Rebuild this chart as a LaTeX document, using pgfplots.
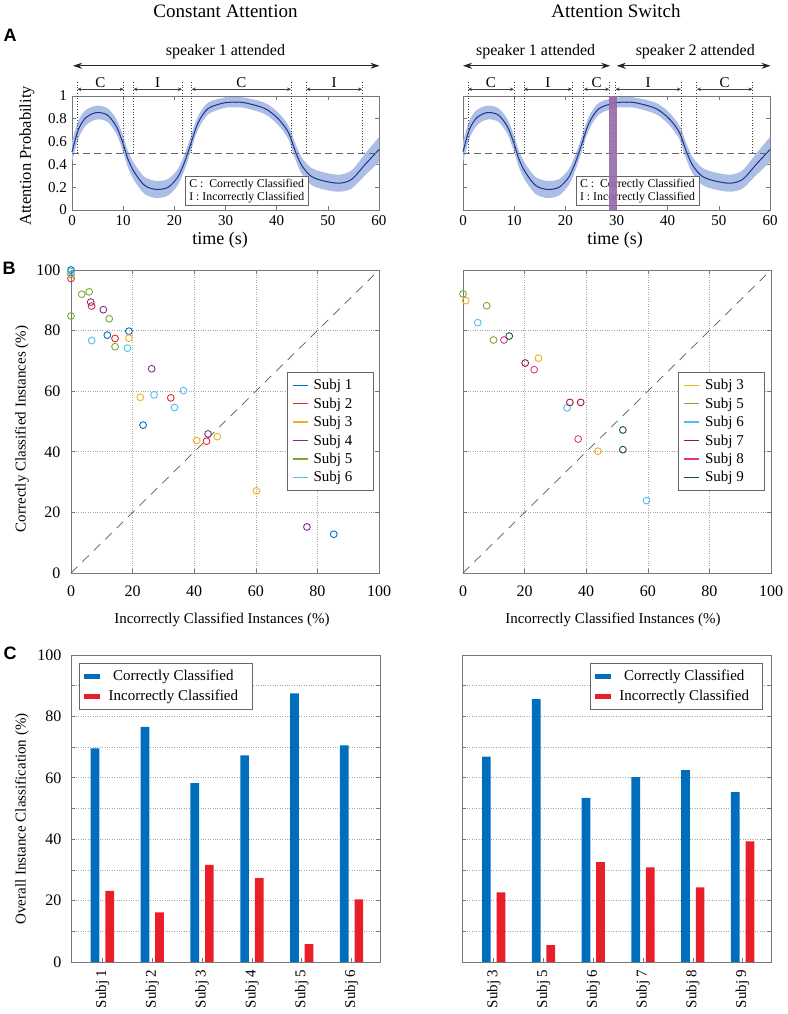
\documentclass[border=0pt]{standalone}
\usepackage{fontspec}
\setmainfont{Liberation Serif}
\newfontfamily\lsans{Liberation Sans}
\usepackage{pgfplots}
\usepackage{pgfplotstable}
\pgfplotsset{compat=1.18}
\usepgfplotslibrary{fillbetween}
\usetikzlibrary{arrows.meta}
\definecolor{bandc}{RGB}{172,190,230}
\definecolor{meanc}{RGB}{28,52,140}
\definecolor{axc}{RGB}{120,120,120}
\definecolor{subjA}{RGB}{0,114,189}
\definecolor{subjB}{RGB}{228,38,42}
\definecolor{subjC}{RGB}{237,177,32}
\definecolor{subjD}{RGB}{126,47,142}
\definecolor{subjE}{RGB}{119,172,48}
\definecolor{subjF}{RGB}{77,190,238}
\definecolor{subjG}{RGB}{162,20,47}
\definecolor{subjH}{RGB}{230,50,140}
\definecolor{subjI}{RGB}{20,90,30}
\definecolor{barb}{RGB}{0,110,189}
\definecolor{barr}{RGB}{232,30,40}
\definecolor{purp}{RGB}{150,105,170}
\newcommand{\fsz}[1]{\fontsize{#1}{#1}\selectfont}
\newcommand{\dl}[1]{\draw[black!75, dotted, line width=0.7pt] (axis cs:#1,0.5) -- (axis cs:#1,1.126);}
\newcommand{\br}[4]{\draw[{Stealth[length=4pt,width=3.5pt]}-{Stealth[length=4pt,width=3.5pt]}, black!75, line width=0.5pt] (axis cs:#1,1.059) -- (axis cs:#2,1.059);
  \node[anchor=base, font=\fsz{15}, inner sep=0pt] at (axis cs:#3,1.075) {#4};}
\newcommand{\sparrow}[2]{\draw[{Stealth[length=9pt,width=6pt]}-{Stealth[length=9pt,width=6pt]}, black!85, line width=0.8pt] (axis cs:#1,1.265) -- (axis cs:#2,1.265);}
\newcommand{\lline}[1]{\addlegendimage{legend image code/.code={\draw[#1, line width=1.4pt] (0pt,0pt) -- (15pt,0pt);}}}
\newcommand{\lbar}[1]{\addlegendimage{legend image code/.code={\fill[#1] (0pt,-2pt) rectangle (15pt,2pt);}}}
\newcommand{\bent}[1]{\addlegendentry{\rule{3pt}{0pt}#1\rule{14pt}{0pt}}}
\newcommand{\cent}[1]{\addlegendentry{\rule{6pt}{0pt}\makebox[131pt][c]{#1}\rule{6pt}{0pt}}}
\pgfplotsset{
  base/.style={scale only axis, anchor=south west,
    axis line style={axc, line width=0.6pt},
    tick style={axc, line width=0.6pt},
    tick align=inside, major tick length=4pt, minor tick length=4pt,
    /pgf/number format/assume math mode=true,
    tick label style={font=\fsz{16}, black}},
  scat/.style={only marks, mark=o, mark size=3.4pt, line width=0.9pt, mark options={solid}, forget plot},
  blegend/.style={legend cell align=left,
    legend style={draw=black!60, fill=white, line width=0.6pt, font=\fsz{15}, row sep=2.5pt, inner xsep=5pt, inner ysep=5pt}},
  clegend/.style={legend cell align=left,
    legend style={draw=black!60, fill=white, line width=0.6pt, font=\fsz{15}, row sep=4pt, inner xsep=5pt, inner ysep=5pt}}
}
\pgfplotstableread{
t m lo hi
0 0.51 0.42 0.60
1.2 0.70 0.62 0.78
2.5 0.80 0.73 0.87
4 0.845 0.783 0.907
5.3 0.855 0.795 0.915
7 0.83 0.77 0.89
8.7 0.73 0.665 0.795
10 0.58 0.51 0.65
10.9 0.45 0.378 0.522
12.2 0.33 0.255 0.405
14.2 0.215 0.14 0.29
16.5 0.18 0.105 0.255
18.8 0.20 0.128 0.272
20.7 0.29 0.22 0.36
22 0.42 0.352 0.488
23 0.55 0.485 0.615
24.6 0.76 0.70 0.82
26.6 0.89 0.838 0.942
29.8 0.94 0.895 0.985
32 0.945 0.90 0.99
33.8 0.94 0.895 0.985
37.7 0.89 0.84 0.94
40.3 0.80 0.745 0.855
42.3 0.68 0.62 0.74
43.6 0.52 0.45 0.59
44.9 0.39 0.318 0.462
46.8 0.294 0.219 0.369
49.4 0.253 0.178 0.328
52.3 0.235 0.16 0.31
54.7 0.27 0.19 0.35
57.3 0.40 0.305 0.495
60 0.53 0.42 0.64
}\attn
\begin{document}
\begin{tikzpicture}

% ---------------- A left
\begin{axis}[base, at={(72pt,804pt)}, width=307pt, height=114pt,
  xmin=0, xmax=60, ymin=0, ymax=1, xtick={0,10,...,60},
  ytick={0,0.2,0.4,0.6,0.8,1}, yticklabels={0,0.2,0.4,0.6,0.8,1},
  tick label style={font=\fsz{15}}, xticklabel shift=2.5pt, yticklabel shift=1.5pt, clip=false]
\addplot[name path=U, draw=none, smooth, forget plot] table[x=t,y=hi]{\attn};
\addplot[name path=L, draw=none, smooth, forget plot] table[x=t,y=lo]{\attn};
\addplot[bandc, draw=none, forget plot] fill between[of=U and L];
\addplot[meanc, line width=1pt, smooth] table[x=t,y=m]{\attn};
\addplot[black!60, dash pattern=on 7pt off 4pt, line width=0.7pt] coordinates {(0,0.5) (60,0.5)};
\dl{1.04}\dl{10.1}\dl{12.0}\dl{21.5}\dl{23.4}\dl{42.8}\dl{45.8}\dl{56.7}
\br{1.04}{10.1}{5.57}{C}
\br{12.0}{21.5}{16.75}{I}
\br{23.4}{42.8}{33.1}{C}
\br{45.8}{56.7}{51.25}{I}
\sparrow{0.2}{60.1}
\node[anchor=base, font=\fsz{16}] at (axis cs:30,1.355) {speaker 1 attended};
\node[draw=black!60, fill=white, line width=0.5pt, anchor=north west, align=left, font=\fontsize{11.8}{12.8}\selectfont, inner xsep=4pt, inner ysep=2.5pt] at (axis cs:22.1,0.294) {C :\ \ Correctly Classified\\I : Incorrectly Classified};
\end{axis}

% ---------------- A right
\begin{axis}[base, at={(463pt,804pt)}, width=307pt, height=114pt,
  xmin=0, xmax=60, ymin=0, ymax=1, xtick={0,10,...,60},
  ytick={0,0.2,0.4,0.6,0.8,1}, yticklabels={},
  tick label style={font=\fsz{15}}, xticklabel shift=2.5pt, clip=false]
\addplot[name path=U, draw=none, smooth, forget plot] table[x=t,y=hi]{\attn};
\addplot[name path=L, draw=none, smooth, forget plot] table[x=t,y=lo]{\attn};
\addplot[bandc, draw=none, forget plot] fill between[of=U and L];
\addplot[meanc, line width=1pt, smooth] table[x=t,y=m]{\attn};
\addplot[black!60, dash pattern=on 7pt off 4pt, line width=0.7pt] coordinates {(0,0.5) (60,0.5)};
\dl{0.98}\dl{9.96}\dl{11.9}\dl{21.3}\dl{23.6}\dl{28.6}\dl{29.8}\dl{42.6}\dl{45.7}\dl{56.6}
\br{0.98}{9.96}{5.47}{C}
\br{11.9}{21.3}{16.6}{I}
\br{23.6}{28.6}{26.1}{C}
\br{29.8}{42.6}{36.2}{I}
\br{45.7}{56.6}{51.15}{C}
\sparrow{0}{28.75}
\sparrow{30.06}{60.1}
\node[anchor=base, font=\fsz{16}] at (axis cs:14.2,1.355) {speaker 1 attended};
\node[anchor=base, font=\fsz{16}] at (axis cs:45.4,1.355) {speaker 2 attended};
\node[draw=black!60, fill=white, line width=0.5pt, anchor=north west, align=left, font=\fontsize{11.8}{12.8}\selectfont, inner xsep=4pt, inner ysep=2.5pt] at (axis cs:22.05,0.294) {C :\ \ Correctly Classified\\I : Incorrectly Classified};
\fill[purp, opacity=0.9] (axis cs:28.6,0) rectangle (axis cs:30,1);
\end{axis}

% ---------------- B left
\begin{axis}[base, blegend, at={(71pt,441pt)}, width=308pt, height=303pt,
  xmin=0, xmax=100, ymin=0, ymax=100, xtick={0,20,...,100}, ytick={0,20,...,100},
  grid=major, grid style={dotted, black!35, line width=0.6pt},
  xticklabel shift=9pt, yticklabel shift=7pt, clip=false,
  legend style={at={(axis cs:70.1,66.3)}, anchor=north west}]
\addplot[black!65, dash pattern=on 9pt off 7pt, line width=0.7pt, forget plot] coordinates {(0,0) (100,100)};
\addplot[scat, subjA] coordinates {(0,100) (11.8,78.5) (18.8,79.8) (23.4,48.8) (85.3,12.8)};
\addplot[scat, subjB] coordinates {(0,97.2) (6.7,88.1) (14.3,77.4) (32.4,57.8) (44.0,43.5)};
\addplot[scat, subjC] coordinates {(18.8,77.5) (22.5,58.0) (40.8,43.7) (47.5,45.0) (60.2,27.1)};
\addplot[scat, subjD] coordinates {(6.4,89.4) (10.5,86.9) (26.2,67.4) (44.5,45.9) (76.6,15.2)};
\addplot[scat, subjE] coordinates {(0,98.5) (0,84.8) (3.5,92.0) (5.9,92.8) (12.4,83.9) (14.3,74.7)};
\addplot[scat, subjF] coordinates {(0,99.5) (6.7,76.7) (18.3,74.2) (27.0,58.8) (33.6,54.6) (36.5,60.2)};
\lline{subjA}\bent{Subj 1}
\lline{subjB}\bent{Subj 2}
\lline{subjC}\bent{Subj 3}
\lline{subjD}\bent{Subj 4}
\lline{subjE}\bent{Subj 5}
\lline{subjF}\bent{Subj 6}
\end{axis}

% ---------------- B right
\begin{axis}[base, blegend, at={(463pt,441pt)}, width=308pt, height=303pt,
  xmin=0, xmax=100, ymin=0, ymax=100, xtick={0,20,...,100}, ytick={0,20,...,100}, yticklabels={},
  grid=major, grid style={dotted, black!35, line width=0.6pt},
  xticklabel shift=9pt, clip=false,
  legend style={at={(axis cs:69.9,66.3)}, anchor=north west}]
\addplot[black!65, dash pattern=on 9pt off 7pt, line width=0.7pt, forget plot] coordinates {(0,0) (100,100)};
\addplot[scat, subjC] coordinates {(0.9,89.9) (24.5,70.9) (43.8,40.2)};
\addplot[scat, subjE] coordinates {(0,92.1) (7.7,88.2) (9.9,76.9)};
\addplot[scat, subjF] coordinates {(4.8,82.6) (33.8,54.5) (59.6,23.9)};
\addplot[scat, subjG] coordinates {(20.2,69.3) (34.7,56.3) (38.2,56.3)};
\addplot[scat, subjH] coordinates {(13.3,76.9) (23.1,67.1) (37.4,44.2)};
\addplot[scat, subjI] coordinates {(15.0,78.2) (51.9,47.2) (51.9,40.7)};
\lline{subjC}\bent{Subj 3}
\lline{subjE}\bent{Subj 5}
\lline{subjF}\bent{Subj 6}
\lline{subjG}\bent{Subj 7}
\lline{subjH}\bent{Subj 8}
\lline{subjI}\bent{Subj 9}
\end{axis}

% ---------------- C left
\begin{axis}[base, clegend, at={(71pt,52pt)}, width=309pt, height=307pt,
  xmin=0.37, xmax=6.57, ymin=0, ymax=100,
  ytick={0,20,...,100}, minor ytick={10,30,...,90},
  ymajorgrids, yminorgrids, grid style={dotted, black!35, line width=0.6pt},
  xtick={1,...,6}, xticklabels={Subj 1,Subj 2,Subj 3,Subj 4,Subj 5,Subj 6},
  xtick pos=left, xticklabel style={rotate=90, anchor=east, font=\fsz{15}}, xticklabel shift=4pt,
  yticklabel shift=6pt,
  legend style={at={(axis cs:0.53,97.4)}, anchor=north west}]
\addplot[ybar, bar width=8.7pt, bar shift=-7.3pt, fill=barb, draw=none, forget plot] coordinates {(1,69.6) (2,76.6) (3,58.3) (4,67.3) (5,87.5) (6,70.6)};
\addplot[ybar, bar width=8.7pt, bar shift=7.3pt, fill=barr, draw=none, forget plot] coordinates {(1,23.2) (2,16.2) (3,31.6) (4,27.3) (5,5.8) (6,20.4)};
\lbar{barb}\cent{Correctly Classified}
\lbar{barr}\cent{Incorrectly Classified}
\end{axis}

% ---------------- C right
\begin{axis}[base, clegend, at={(462pt,52pt)}, width=309pt, height=307pt,
  xmin=0.364, xmax=6.57, ymin=0, ymax=100,
  ytick={0,20,...,100}, minor ytick={10,30,...,90}, yticklabels={},
  ymajorgrids, yminorgrids, grid style={dotted, black!35, line width=0.6pt},
  xtick={1,...,6}, xticklabels={Subj 3,Subj 5,Subj 6,Subj 7,Subj 8,Subj 9},
  xtick pos=left, xticklabel style={rotate=90, anchor=east, font=\fsz{15}}, xticklabel shift=4pt,
  legend style={at={(axis cs:6.41,97.4)}, anchor=north east}]
\addplot[ybar, bar width=8.7pt, bar shift=-7.3pt, fill=barb, draw=none, forget plot] coordinates {(1,66.9) (2,85.6) (3,53.5) (4,60.2) (5,62.5) (6,55.3)};
\addplot[ybar, bar width=8.7pt, bar shift=7.3pt, fill=barr, draw=none, forget plot] coordinates {(1,22.7) (2,5.5) (3,32.5) (4,30.8) (5,24.3) (6,39.3)};
\lbar{barb}\cent{Correctly Classified}
\lbar{barr}\cent{Incorrectly Classified}
\end{axis}

% ---------------- titles, labels, letters
\node[font=\fsz{19}] at (225.5pt,1003pt) {Constant Attention};
\node[font=\fsz{19}] at (616pt,1003pt) {Attention Switch};
\node[font=\lsans\bfseries\fsz{18}] at (10pt,979pt) {A};
\node[font=\lsans\bfseries\fsz{18}] at (9pt,746pt) {B};
\node[font=\lsans\bfseries\fsz{18}] at (10pt,361pt) {C};
\node[rotate=90, font=\fsz{16.5}] at (27pt,858pt) {Attention Probability};
\node[font=\fsz{18}] at (220pt,774pt) {time (s)};
\node[font=\fsz{18}] at (615pt,774pt) {time (s)};
\node[rotate=90, font=\fsz{15}] at (22pt,585pt) {Correctly Classified Instances (\%)};
\node[font=\fsz{15}] at (222pt,394pt) {Incorrectly Classified Instances (\%)};
\node[font=\fsz{15}] at (613pt,394pt) {Incorrectly Classified Instances (\%)};
\node[rotate=90, font=\fsz{15}] at (22pt,195pt) {Overall Instance Classification (\%)};
\pgfresetboundingbox
\path[use as bounding box] (0pt,0pt) rectangle (787pt,1014pt);
\end{tikzpicture}
\end{document}
